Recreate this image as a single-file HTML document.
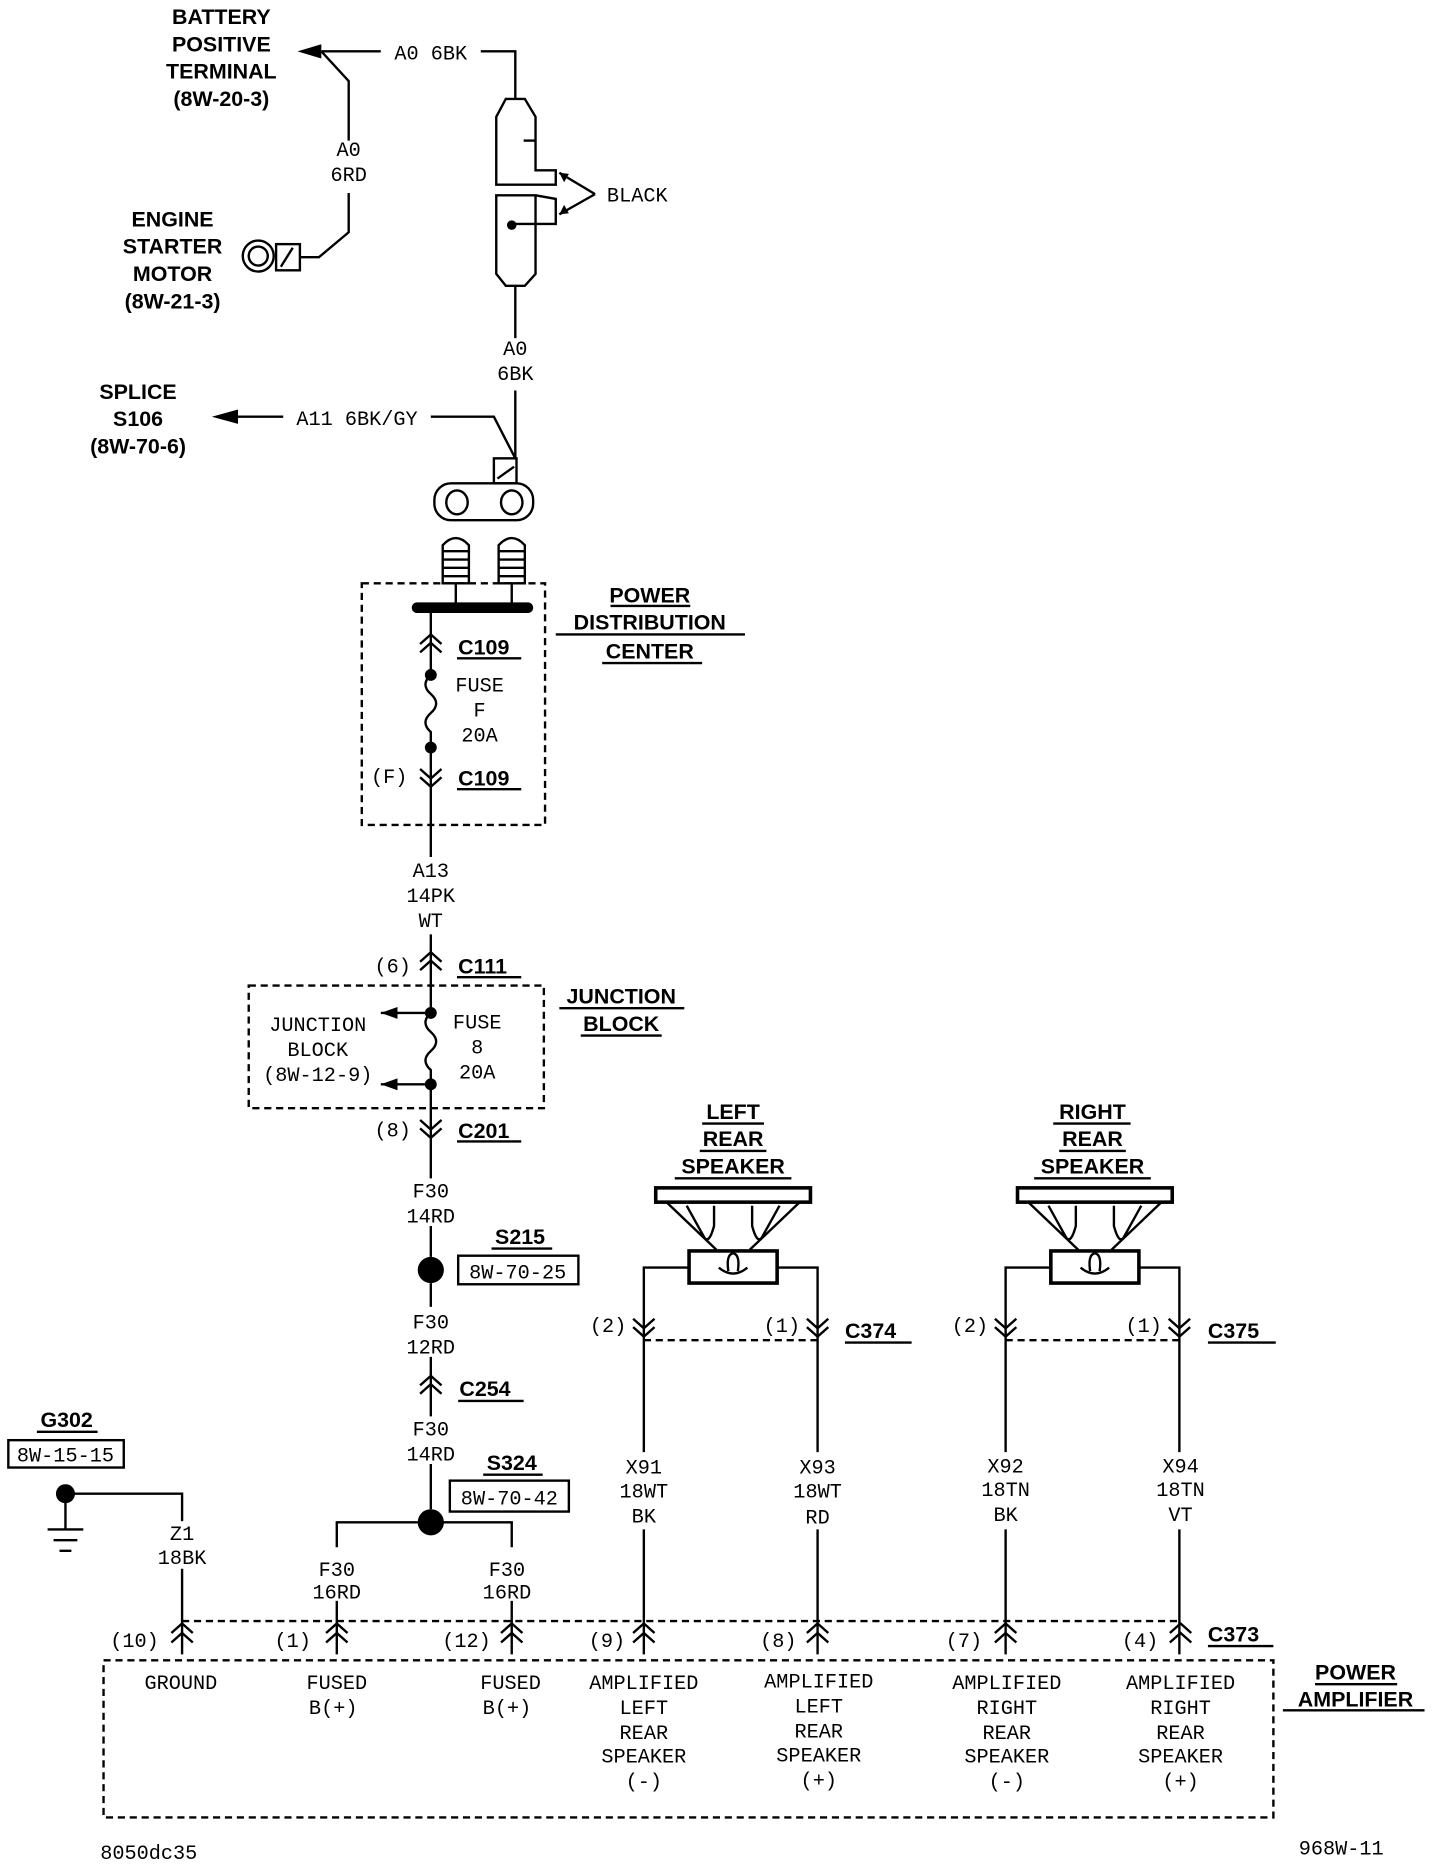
<!DOCTYPE html>
<html><head><meta charset="utf-8"><style>
html,body{margin:0;padding:0;background:#fff}
svg{display:block}
text{font-family:"Liberation Mono",monospace;font-size:17px;fill:#000;text-anchor:middle}
.b{font-family:"Liberation Sans",sans-serif;font-weight:bold;font-size:18px}
.l{text-anchor:start}
</style></head><body>
<svg width="1440" height="1864" viewBox="0 0 1210 1566" xmlns="http://www.w3.org/2000/svg">
<g stroke="#000" stroke-width="2" fill="none">
<path d="M270,43 H320 M404,43 H433 V83"/>
<path d="M270,43 L293,68 V118 M293,162 V195 L268,216 H252"/>
<circle cx="217" cy="215" r="13"/><circle cx="217" cy="215" r="8"/>
<rect x="232" y="205" width="20" height="22"/><path d="M236,224 L246,208"/>
<path d="M425,83 H441 L450,98 V143 H467 V155 H417 V98 Z"/>
<path d="M440,118 H450"/>
<path d="M417,164 H450 V230 L441,240 H425 L417,230 Z"/>
<path d="M450,164 L467,167 V188 H430"/>
<path d="M500,163 L470,145 M500,163 L470,180"/>
<path d="M433,240 V284 M433,328 V385"/>
<path d="M200,350 H238 M362,350 H415 L433,385"/>
<rect x="415" y="385" width="19" height="21"/><path d="M418,402 L432,392"/>
<rect x="365" y="406" width="83" height="31" rx="14"/>
<ellipse cx="384" cy="422" rx="9" ry="10"/><ellipse cx="430" cy="422" rx="9" ry="10"/>
<path d="M372,490 V458 Q383,446 394,458 V490 Z M419,490 V458 Q430,446 441,458 V490 Z"/>
<path d="M372,463H394M372,470H394M372,477H394M372,484H394M419,463H441M419,470H441M419,477H441M419,484H441"/>
<path d="M383,490 V510 M430,490 V510"/>
</g>
<path d="M250,43 L270,37 V49 Z"/>
<path d="M178,350 L200,344 V356 Z"/>
<path d="M470,145 L478,146 L474,153 Z M470,180 L474,172 L478,179 Z"/>
<circle cx="430" cy="189" r="4"/>
<rect x="346" y="506" width="102" height="9" rx="4.5"/>
<g stroke="#000" stroke-width="2" fill="none">
<rect x="304" y="490" width="154" height="203" stroke-dasharray="6,4"/>
<path d="M362,515 V567 M362,628 V720 M362,785 V851 M362,911 V990"/>
<path d="M362,567 q-9,8 0,16 q9,8 0,16 q-9,8 0,16 L362,628"/>
<path d="M353,541 L362,533 L371,541 M353,548 L362,540 L371,548"/>
<path d="M353,646 L362,654 L371,646 M353,653 L362,661 L371,653"/>
<path d="M353,808 L362,800 L371,808 M353,815 L362,807 L371,815"/>
<rect x="209" y="828" width="248" height="103" stroke-dasharray="6,4"/>
<path d="M362,851 q-9,8 0,16 q9,8 0,16 q-9,8 0,16 L362,911"/>
<path d="M320,851 H362 M320,911 H362"/>
<path d="M353,941 L362,949 L371,941 M353,948 L362,956 L371,948"/>
<path d="M362,1030 V1056 M362,1078 V1098 M362,1140 V1190 M362,1230 V1268"/>
<path d="M353,1164 L362,1156 L371,1164 M353,1171 L362,1163 L371,1171"/>
<rect x="385" y="1055" width="101" height="24"/>
<rect x="378" y="1244" width="100" height="26"/>
<rect x="7" y="1210" width="97" height="23"/>
<path d="M283,1300 V1279 H430 V1300 M283,1345 V1390 M430,1345 V1390"/>
<path d="M55,1255 H153 V1278 M153,1318 V1390 M55,1255 V1285 M40,1285 H70 M45,1294 H65 M50,1303 H60"/>
<g id="spk">
<rect x="551" y="998" width="130" height="12" stroke-width="3"/>
<path d="M560,1010 L602,1050 M672,1010 L630,1050 M577,1013 L592,1040 Q596,1045 600,1030 V1013 M655,1013 L640,1040 Q636,1045 632,1030 V1013"/>
<rect x="579" y="1051" width="74" height="27" stroke-width="3"/>
<path d="M579,1065 H541 V1220 M541,1285 V1390 M653,1065 H687 V1220 M687,1285 V1390"/>
<path d="M604,1065 Q616,1075 628,1065 M612,1068 Q610,1054 616,1053 Q622,1054 620,1068"/>
<path d="M532,1108 L541,1116 L550,1108 M532,1115 L541,1123 L550,1115 M678,1108 L687,1116 L696,1108 M678,1115 L687,1123 L696,1115"/>
<path d="M541,1126 H687" stroke-dasharray="6,4"/>
</g>
<use href="#spk" transform="translate(304,0)"/>
<path d="M153,1362 H992" stroke-dasharray="6,4"/>
<g id="ch"><path d="M144,1372 L153,1364 L162,1372 M144,1380 L153,1372 L162,1380"/></g>
<use href="#ch" transform="translate(130,0)"/><use href="#ch" transform="translate(277,0)"/>
<use href="#ch" transform="translate(388,0)"/><use href="#ch" transform="translate(534,0)"/>
<use href="#ch" transform="translate(692,0)"/><use href="#ch" transform="translate(839,0)"/>
<rect x="87" y="1395" width="983" height="132" stroke-dasharray="6,4"/>
<path d="M1078,1437 H1197 M1105,1415 H1174 M384,553 H438 M384,663 H438 M384,821 H438 M384,959 H438 M385,1177 H440 M413,1049 H464 M406,1239 H456 M31,1203 H82 M710,1128 H766 M1015,1128 H1072 M1015,1383 H1070 M513,509 H580 M467,533 H626 M506,557 H590 M470,847 H575 M488,870 H556 M590,944 H642 M588,967 H644 M567,990 H665 M885,944 H950 M890,967 H946 M869,990 H967"/>
</g>
<circle cx="362" cy="1067" r="11"/>
<circle cx="362" cy="1279" r="11"/>
<circle cx="55" cy="1255" r="8"/>
<circle cx="362" cy="567" r="5"/><circle cx="362" cy="628" r="5"/>
<circle cx="362" cy="851" r="5"/><circle cx="362" cy="911" r="5"/>
<path d="M320,851 L334,846 V856 Z M320,911 L334,906 V916 Z"/>

<text class="b" x="186" y="20">BATTERY</text><text class="b" x="186" y="43">POSITIVE</text>
<text class="b" x="186" y="66">TERMINAL</text><text class="b" x="186" y="89">(8W-20-3)</text>
<text x="362" y="50">A0 6BK</text>
<text x="293" y="131">A0</text><text x="293" y="152">6RD</text>
<text class="b" x="145" y="190">ENGINE</text><text class="b" x="145" y="213">STARTER</text>
<text class="b" x="145" y="236">MOTOR</text><text class="b" x="145" y="259">(8W-21-3)</text>
<text class="l" x="510" y="169">BLACK</text>
<text x="433" y="298">A0</text><text x="433" y="319">6BK</text>
<text class="b" x="116" y="335">SPLICE</text><text class="b" x="116" y="358">S106</text><text class="b" x="116" y="381">(8W-70-6)</text>
<text x="300" y="357">A11 6BK/GY</text>
<text class="b" x="546" y="506">POWER</text><text class="b" x="546" y="529">DISTRIBUTION</text><text class="b" x="546" y="553">CENTER</text>
<text class="b l" x="385" y="550">C109</text><text class="b l" x="385" y="660">C109</text>
<text x="403" y="581">FUSE</text><text x="403" y="602">F</text><text x="403" y="623">20A</text>
<text x="327" y="658">(F)</text>
<text x="362" y="737">A13</text><text x="362" y="758">14PK</text><text x="362" y="779">WT</text>
<text x="330" y="817">(6)</text><text class="b l" x="385" y="818">C111</text>
<text class="b" x="522" y="843">JUNCTION</text><text class="b" x="522" y="866">BLOCK</text>
<text x="267" y="866">JUNCTION</text><text x="267" y="887">BLOCK</text><text x="267" y="908">(8W-12-9)</text>
<text x="401" y="864">FUSE</text><text x="401" y="885">8</text><text x="401" y="906">20A</text>
<text x="330" y="955">(8)</text><text class="b l" x="385" y="956">C201</text>
<text x="362" y="1006">F30</text><text x="362" y="1027">14RD</text>
<text class="b" x="437" y="1045">S215</text><text x="435" y="1074">8W-70-25</text>
<text x="362" y="1116">F30</text><text x="362" y="1137">12RD</text>
<text class="b l" x="386" y="1173">C254</text>
<text x="362" y="1206">F30</text><text x="362" y="1227">14RD</text>
<text class="b" x="430" y="1235">S324</text><text x="428" y="1264">8W-70-42</text>
<text x="283" y="1324">F30</text><text x="283" y="1343">16RD</text>
<text x="426" y="1324">F30</text><text x="426" y="1343">16RD</text>
<text class="b" x="56" y="1199">G302</text><text x="55" y="1228">8W-15-15</text>
<text x="153" y="1294">Z1</text><text x="153" y="1314">18BK</text>
<text class="b" x="616" y="940">LEFT</text><text class="b" x="616" y="963">REAR</text><text class="b" x="616" y="986">SPEAKER</text>
<text class="b" x="918" y="940">RIGHT</text><text class="b" x="918" y="963">REAR</text><text class="b" x="918" y="986">SPEAKER</text>
<text x="511" y="1119">(2)</text><text x="657" y="1119">(1)</text><text class="b l" x="710" y="1124">C374</text>
<text x="815" y="1119">(2)</text><text x="961" y="1119">(1)</text><text class="b l" x="1015" y="1124">C375</text>
<text x="541" y="1238">X91</text><text x="541" y="1258">18WT</text><text x="541" y="1279">BK</text>
<text x="687" y="1238">X93</text><text x="687" y="1258">18WT</text><text x="687" y="1280">RD</text>
<text x="845" y="1237">X92</text><text x="845" y="1257">18TN</text><text x="845" y="1278">BK</text>
<text x="992" y="1237">X94</text><text x="992" y="1257">18TN</text><text x="992" y="1278">VT</text>
<text x="113" y="1384">(10)</text><text x="246" y="1384">(1)</text><text x="392" y="1384">(12)</text>
<text x="510" y="1384">(9)</text><text x="654" y="1384">(8)</text><text x="810" y="1384">(7)</text><text x="958" y="1384">(4)</text>
<text class="b l" x="1015" y="1379">C373</text>
<text class="b" x="1139" y="1411">POWER</text><text class="b" x="1139" y="1434">AMPLIFIER</text>
<text x="152" y="1419">GROUND</text>
<text x="283" y="1419">FUSED</text><text x="280" y="1440">B(+)</text>
<text x="429" y="1419">FUSED</text><text x="426" y="1440">B(+)</text>
<text x="541" y="1419">AMPLIFIED</text><text x="541" y="1440">LEFT</text><text x="541" y="1461">REAR</text><text x="541" y="1481">SPEAKER</text><text x="541" y="1502">(-)</text>
<text x="688" y="1418">AMPLIFIED</text><text x="688" y="1439">LEFT</text><text x="688" y="1460">REAR</text><text x="688" y="1480">SPEAKER</text><text x="688" y="1501">(+)</text>
<text x="846" y="1419">AMPLIFIED</text><text x="846" y="1440">RIGHT</text><text x="846" y="1461">REAR</text><text x="846" y="1481">SPEAKER</text><text x="846" y="1502">(-)</text>
<text x="992" y="1419">AMPLIFIED</text><text x="992" y="1440">RIGHT</text><text x="992" y="1461">REAR</text><text x="992" y="1481">SPEAKER</text><text x="992" y="1502">(+)</text>
<text x="125" y="1562">8050dc35</text>
<text x="1127" y="1558">968W-11</text>
</svg>
</body></html>
